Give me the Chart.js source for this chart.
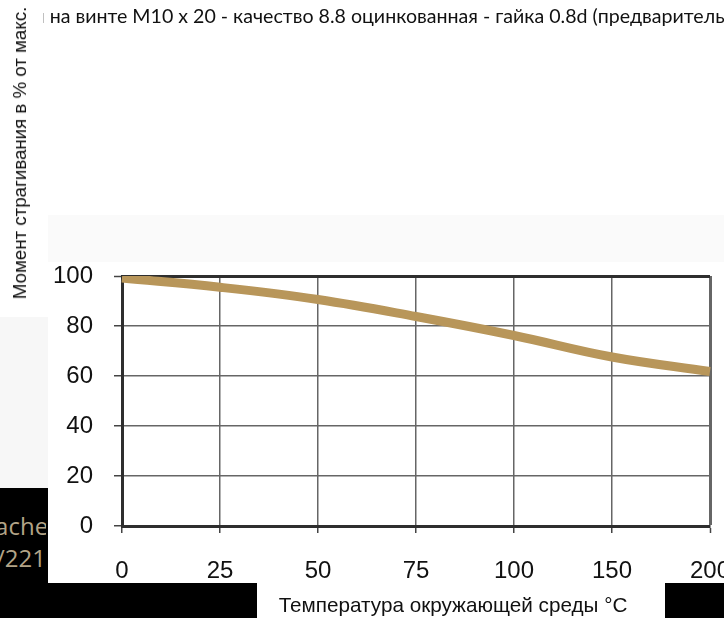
<!DOCTYPE html>
<html>
<head>
<meta charset="utf-8">
<script src="https://cdn.jsdelivr.net/npm/chart.js@4"></script>
<style>
  html, body { margin: 0; padding: 0; background: #fff; }
  #wrap { position: relative; width: 724px; height: 618px; overflow: hidden; }
  #c { position: absolute; left: 0; top: 0; }
  .ov { position: absolute; }
</style>
</head>
<body>
<div id="wrap">
  <div class="ov" style="left:48px;top:215px;width:676px;height:47px;background:#fafafa"></div>
  <div class="ov" style="left:0;top:317px;width:48px;height:171px;background:#f7f7f7"></div>
  <canvas id="c" width="724" height="618"></canvas>

  <div class="ov" style="left:43px;top:4px;width:681px;height:28px;overflow:hidden;white-space:nowrap;font:19.6px Lato, sans-serif;color:#111">
    <span style="margin-left:-8px">я на винте M10 x 20 - качество 8.8 оцинкованная - гайка 0.8d (предварительная затяжка)</span>
  </div>

  <div class="ov" style="left:20px;top:153px;white-space:nowrap;font:18.7px 'Liberation Sans', Arial, sans-serif;color:#111;transform:translate(-50%,-50%) rotate(-90deg)">Момент страгивания в % от макс.</div>

  <div class="ov" style="left:0;top:488px;width:48px;height:130px;background:#000"></div>
  <div class="ov" style="left:0;top:583px;width:257px;height:35px;background:#000"></div>
  <div class="ov" style="left:665px;top:583px;width:59px;height:35px;background:#000"></div>
  <div class="ov" style="left:-20px;top:510px;width:66px;height:70px;overflow:hidden;text-align:right;white-space:nowrap;font:24px 'Open Sans', sans-serif;line-height:32px;color:#b3a487">Cache<br>1/221</div>

  <div class="ov" style="left:453px;top:605px;white-space:nowrap;font:20.7px 'Liberation Sans', Arial, sans-serif;color:#111;transform:translate(-50%,-50%)">Температура окружающей среды °C</div>
</div>

<script>
const temps = ['0', '25', '50', '75', '100', '150', '200'];
const torque = [99.2, 95.5, 90.6, 83.8, 76.2, 67.6, 61.8];
const yTicks = [0, 20, 40, 60, 80, 100];

const tickFont = { family: "'Liberation Sans', Arial, sans-serif", size: 24 };

new Chart(document.getElementById('c'), {
  type: 'line',
  data: {
    labels: temps,
    datasets: [{
      data: torque,
      borderColor: '#b8965a',
      borderWidth: 9,
      tension: 0.4,
      pointRadius: 0,
      fill: false,
    }],
  },
  options: {
    responsive: false,
    animation: false,
    devicePixelRatio: 1,
    layout: { padding: { top: 276, right: 14, left: 0, bottom: 0 } },
    plugins: { legend: { display: false }, tooltip: { enabled: false } },
    scales: {
      x: {
        type: 'category',
        offset: false,
        afterFit: s => { s.height = 92; s.paddingLeft = 0; s.paddingRight = 0; },
        grid: {
          offset: false,
          color: '#666',
          lineWidth: c => (c.index === temps.length - 1 ? 3 : 1.5),
          tickLength: 7,
          tickWidth: 1.5,
          tickColor: '#444',
        },
        border: { display: true, color: '#2e2e2e', width: 3 },
        ticks: { color: '#111', font: tickFont, padding: 24, maxRotation: 0, autoSkip: false },
      },
      y: {
        min: yTicks[0],
        max: yTicks[yTicks.length - 1],
        afterFit: s => { s.width = 122; },
        afterBuildTicks: s => { s.ticks = yTicks.map(v => ({ value: v })); },
        grid: {
          color: c => (c.tick && c.tick.value === 100 ? '#2e2e2e' : '#666'),
          lineWidth: c => (c.tick && c.tick.value === 100 ? 3 : 1.5),
          tickLength: 8,
          tickWidth: 1.5,
          tickColor: '#444',
        },
        border: { display: true, color: '#2e2e2e', width: 3 },
        ticks: { color: '#111', font: tickFont, padding: 21 },
      },
    },
  },
});
</script>
</body>
</html>
